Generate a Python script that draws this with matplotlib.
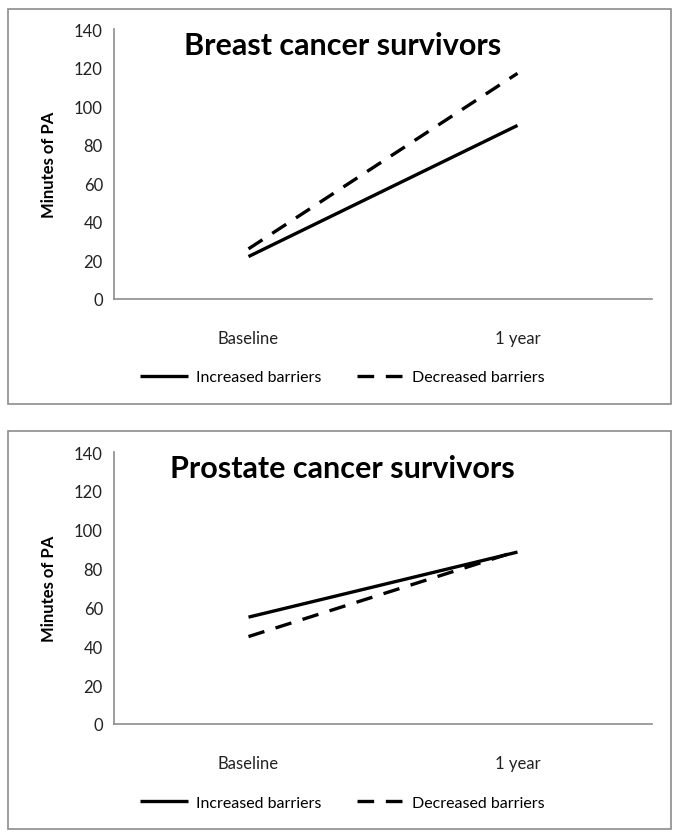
import matplotlib.pyplot as plt
from matplotlib.patches import Rectangle

# data
categories = ['Baseline', '1 year']
breast_increased = [22, 90]
breast_decreased = [26, 117]
prostate_increased = [55, 88.5]
prostate_decreased = [45, 89]
titles = ['Breast cancer survivors', 'Prostate cancer survivors']

plt.rcParams['font.family'] = ['Lato', 'DejaVu Sans']

W, H = 679, 837
fig = plt.figure(figsize=(W / 100, H / 100), dpi=100)

def px_axes(left, top, right, bottom):
    return fig.add_axes([left / W, 1 - bottom / H, (right - left) / W, (bottom - top) / H])

panels = [
    (breast_increased, breast_decreased, titles[0], 10, 405, 30, 300),
    (prostate_increased, prostate_decreased, titles[1], 432, 830, 453, 725),
]

for inc, dec, title, ftop, fbot, atop, abot in panels:
    # outer frame of each chart
    fig.patches.append(Rectangle((8 / W, 1 - fbot / H), 663 / W, (fbot - ftop) / H,
                                 transform=fig.transFigure, fill=False,
                                 edgecolor='#8c8c8c', linewidth=1.2))
    ax = px_axes(114, atop, 652, abot)
    x = [0, 1]
    ax.plot(x, inc, color='black', lw=2.4, solid_capstyle='butt', label='Increased barriers')
    ax.plot(x, dec, color='black', lw=2.4, linestyle=(0, (5, 3.5)), label='Decreased barriers')
    ax.set_xlim(-0.5, 1.5)
    ax.set_ylim(0, 140)
    ax.set_yticks(range(0, 141, 20))
    ax.set_xticks(x)
    ax.set_xticklabels(categories)
    ax.tick_params(length=0, labelsize=12, colors='#222222', pad=8)
    ax.tick_params(axis='x', pad=22)
    for s in ['top', 'right']:
        ax.spines[s].set_visible(False)
    for s in ['left', 'bottom']:
        ax.spines[s].set_color('#8c8c8c')
        ax.spines[s].set_linewidth(1.2)
    ax.set_ylabel('Minutes of PA', fontsize=12, fontweight='bold', labelpad=12)
    ax.text(0.425, 0.94, title, transform=ax.transAxes, ha='center', va='center',
            fontsize=22, fontweight='bold')
    ax.legend(loc='center', bbox_to_anchor=(0.425, -0.29), ncol=2, frameon=False,
              fontsize=11.5, handlelength=3.0, columnspacing=2.2, handletextpad=0.5)

fig.savefig('out.png', dpi=100)
